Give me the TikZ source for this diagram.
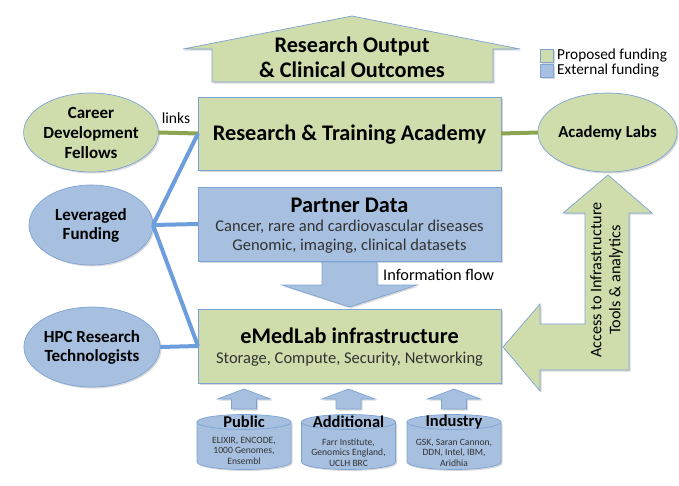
\documentclass[tikz,border=0pt]{standalone}
\usepackage{fontspec}
\setmainfont{Carlito}
\usetikzlibrary{shapes.geometric,shadows}
\definecolor{gfill}{RGB}{207,221,173}
\definecolor{bfill}{RGB}{167,192,224}
\definecolor{bord}{RGB}{125,163,212}
\definecolor{gconn}{RGB}{140,165,82}
\definecolor{bconn}{RGB}{108,157,220}
\definecolor{subtxt}{RGB}{50,50,50}
\begin{document}
\begin{tikzpicture}[x=1pt,y=-1pt,
  myshadow/.style={drop shadow={shadow xshift=1.5pt,shadow yshift=-1.5pt,opacity=0.15,fill=black}},
  gbox/.style={draw=bord,line width=0.7pt,fill=gfill,myshadow,inner sep=0pt,outer sep=0pt},
  bbox/.style={draw=bord,line width=0.7pt,fill=bfill,myshadow,inner sep=0pt,outer sep=0pt},
  gell/.style={ellipse,draw=bord,line width=0.7pt,fill=gfill,myshadow,inner sep=0pt,outer sep=0pt,align=center,font=\fontsize{17}{20}\selectfont\bfseries},
  bell/.style={ellipse,draw=bord,line width=0.7pt,fill=bfill,myshadow,inner sep=0pt,outer sep=0pt,align=center,font=\fontsize{17}{19}\selectfont\bfseries},
  bigtitle/.style={font=\fontsize{22.3}{25}\selectfont\bfseries,align=center,inner sep=0pt},
  subline/.style={font=\fontsize{16.5}{19}\selectfont,text=subtxt,align=center,inner sep=0pt},
  smalltxt/.style={font=\fontsize{9.6}{10.5}\selectfont,text=subtxt,align=center,inner sep=0pt},
  cyltitle/.style={font=\fontsize{16.5}{18}\selectfont\bfseries,inner sep=0pt},
  label15/.style={font=\fontsize{16.3}{18}\selectfont,inner sep=0pt},
  gconnector/.style={draw=gconn,line width=4pt},
  bconnector/.style={draw=bconn,line width=4pt}
]
\useasboundingbox (0,0) rectangle (679,485);

% top arrow
\path[gbox] (352,16) -- (520,49) -- (493,49) -- (493,82) -- (212,82) -- (212,49) -- (183,49) -- cycle;
\node[bigtitle] (outt) at (352,57.5) {Research Output\\\& Clinical Outcomes};

% legend
\node[gbox,minimum width=13pt,minimum height=13pt] (lg) at (546.5,55.5) {};
\node[bbox,minimum width=13pt,minimum height=13pt] (lb) at (546.5,70.5) {};
\node[label15,font=\fontsize{15.3}{16}\selectfont,anchor=west] (lgt) at (557,55.5) {Proposed funding};
\node[label15,font=\fontsize{15.3}{16}\selectfont,anchor=west] (lbt) at (557,70.5) {External funding};

% side ellipses
\node[gell,minimum width=124pt,minimum height=79pt] (cdf) at (91,132.5) {Career\\Development\\Fellows};
\node[bell,minimum width=124pt,minimum height=80pt] (lev) at (91,225) {Leveraged\\Funding};
\node[bell,minimum width=126pt,minimum height=80pt] (hpc) at (92,347) {HPC Research\\Technologists};
\node[gell,minimum width=125pt,minimum height=79pt,font=\fontsize{16.7}{18}\selectfont\bfseries] (lab) at (607.5,132.5) {Academy Labs};

% main boxes
\node[gbox,minimum width=303pt,minimum height=73pt] (rta) at (349.5,133.5) {};
\node[bbox,minimum width=303pt,minimum height=74pt] (pd) at (349.5,224) {};
\node[gbox,minimum width=303pt,minimum height=74pt] (em) at (349.5,346) {};

% connectors
\draw[gconnector] (cdf.east) -- (rta.west);
\draw[gconnector] (rta.east) -- (lab.west);
\draw[bconnector] (lev.east) -- (rta.west);
\draw[bconnector] (lev.east) -- (pd.west);
\draw[bconnector] (lev.east) -- (em.west);
\draw[bconnector] (hpc.east) -- (em.west);

\node[label15,font=\fontsize{15.5}{18}\selectfont] (links) at (176,118) {links};

\node[bigtitle] (rtat) at (349.5,135) {Research \& Training Academy};
\node[bigtitle] (pdt) at (349.5,205) {Partner Data};
\node[subline] (pds) at (349.5,237) {Cancer, rare and cardiovascular diseases\\Genomic, imaging, clinical datasets};
\node[bigtitle] (emt) at (349.5,336) {eMedLab infrastructure};
\node[subline] (ems) at (349.5,359) {Storage, Compute, Security, Networking};

% information flow arrow
\path[bbox] (322,262) -- (377,262) -- (377,285) -- (417,285) -- (349.5,307) -- (282,285) -- (322,285) -- cycle;
\node[label15,anchor=west] (inf) at (383,275) {Information flow};

% access arrow
\path[gbox] (503,347) -- (540,304) -- (540,324) -- (585,324) -- (585,213) -- (563,213) -- (608,175) -- (652,213) -- (629,213) -- (629,370) -- (540,370) -- (540,391) -- cycle;
\node[label15,rotate=90,align=center,font=\fontsize{16.2}{19}\selectfont] (acc) at (606.5,280) {Access to Infrastructure\\Tools \& analytics};

% cylinders with small arrows
\foreach \cx/\nm in {244/pub,348.5/add,454/ind}{
  \path[bbox] (\cx,409) -- (\cx-12.5,409) -- (\cx-12.5,399) -- (\cx-26.5,399) -- (\cx,389) -- (\cx+26.5,399) -- (\cx+12.5,399) -- (\cx+12.5,409) -- cycle;
  \path[bbox] (\cx-47,422) -- (\cx-47,462) arc[start angle=180,end angle=0,x radius=47,y radius=7.5] -- (\cx+47,422) -- cycle;
  \draw[draw=bord,line width=0.7pt,fill=bfill] (\cx,422) ellipse[x radius=47,y radius=7.5];
  \coordinate (\nm) at (\cx,442);
}
\node[cyltitle] (pubt) at (244,422) {Public};
\node[cyltitle] (addt) at (348.5,422) {Additional};
\node[cyltitle] (indt) at (454,422) {Industry};
\node[smalltxt] (pubs) at (244,450.5) {ELIXIR, ENCODE,\\1000 Genomes,\\Ensembl};
\node[smalltxt] (adds) at (348.5,452.5) {Farr Institute,\\Genomics England,\\UCLH BRC};
\node[smalltxt] (inds) at (454,452.5) {GSK, Saran Cannon,\\DDN, Intel, IBM,\\Aridhia};
\end{tikzpicture}
\end{document}
